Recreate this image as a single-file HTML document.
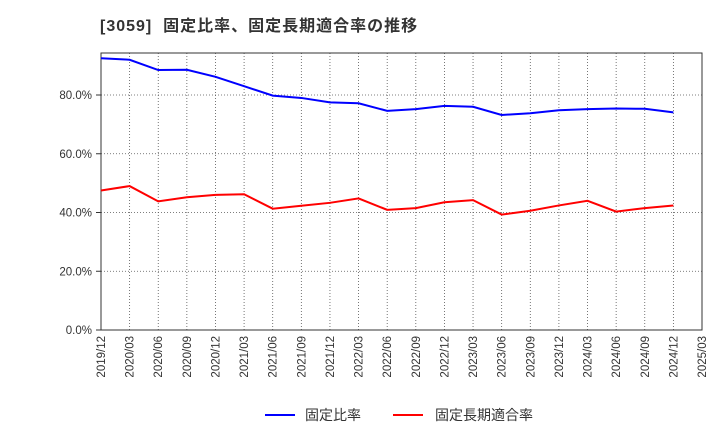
<!DOCTYPE html>
<html><head><meta charset="utf-8">
<style>
body{margin:0;background:#fff;width:720px;height:440px;overflow:hidden;font-family:"Liberation Sans","Noto Sans CJK JP",sans-serif;}
</style></head>
<body>
<svg id="chart" width="720" height="440" xmlns="http://www.w3.org/2000/svg" font-family="Liberation Sans, Noto Sans CJK JP, sans-serif">
<text x="100" y="31" font-size="16" font-weight="bold" fill="#333" letter-spacing="1" xml:space="preserve">[3059]  固定比率、固定長期適合率の推移</text>
<g id="grid"></g>
<g id="axes"></g>
<g id="series"></g>
<g>
<line x1="265" y1="415" x2="295" y2="415" stroke="#0000ff" stroke-width="2"/>
<text x="305" y="420" font-size="14" fill="#333">固定比率</text>
<line x1="393" y1="415" x2="423" y2="415" stroke="#ff0000" stroke-width="2"/>
<text x="435" y="420" font-size="14" fill="#333">固定長期適合率</text>
</g>
</svg>
<script>
const categories=["2019/12","2020/03","2020/06","2020/09","2020/12","2021/03","2021/06","2021/09","2021/12","2022/03","2022/06","2022/09","2022/12","2023/03","2023/06","2023/09","2023/12","2024/03","2024/06","2024/09","2024/12","2025/03"];
const fixedRatio=[92.5,92.0,88.5,88.6,86.2,83.0,79.8,79.0,77.5,77.2,74.6,75.2,76.3,76.0,73.2,73.8,74.8,75.2,75.4,75.3,74.1];
const fixedLongTermRatio=[47.5,49.0,43.8,45.2,46.0,46.2,41.3,42.3,43.3,44.8,40.9,41.5,43.5,44.2,39.3,40.6,42.4,44.0,40.3,41.5,42.4];
const yTicks=[0,20,40,60,80];
const X0=101,X1=702,Y0=330,Ytop=53,YMAX=94.3;
const x=i=>X0+(X1-X0)*i/(categories.length-1);
const y=v=>Y0-(Y0-Ytop)*v/YMAX;
const NS="http://www.w3.org/2000/svg";
function mk(tag,attrs,parent){const e=document.createElementNS(NS,tag);for(const k in attrs)e.setAttribute(k,attrs[k]);document.getElementById(parent).appendChild(e);return e;}
categories.forEach((c,i)=>{
 const g=mk("line",{x1:x(i),x2:x(i),y1:Ytop,y2:Y0,stroke:"#555","stroke-width":0.8,"stroke-dasharray":"1,2"},"grid");
 
 
 const t=mk("text",{transform:`translate(${x(i)+4},${Y0+6}) rotate(-90)`,"text-anchor":"end","font-size":11.5,fill:"#333"},"axes");
 t.textContent=c;
 
 
});
yTicks.forEach(v=>{
 const g=mk("line",{x1:X0,x2:X1,y1:y(v),y2:y(v),stroke:"#555","stroke-width":0.8,"stroke-dasharray":"1,2"},"grid");
 
 
 const t=mk("text",{x:X0-9,y:y(v)+4,"text-anchor":"end","font-size":11.5,fill:"#333"},"axes");
 t.textContent=v.toFixed(1)+"%";
 
 
 const tk=mk("line",{x1:X0-5,x2:X0,y1:y(v),y2:y(v),stroke:"#333"},"axes");
 
 
});
const frame=mk("rect",{x:X0,y:Ytop,width:X1-X0,height:Y0-Ytop,fill:"none",stroke:"#333","stroke-width":1},"axes");


const l1=mk("polyline",{points:fixedRatio.map((v,i)=>x(i)+","+y(v)).join(" "),fill:"none",stroke:"#0000ff","stroke-width":2},"series");


const l2=mk("polyline",{points:fixedLongTermRatio.map((v,i)=>x(i)+","+y(v)).join(" "),fill:"none",stroke:"#ff0000","stroke-width":2},"series");


</script>
</body></html>
